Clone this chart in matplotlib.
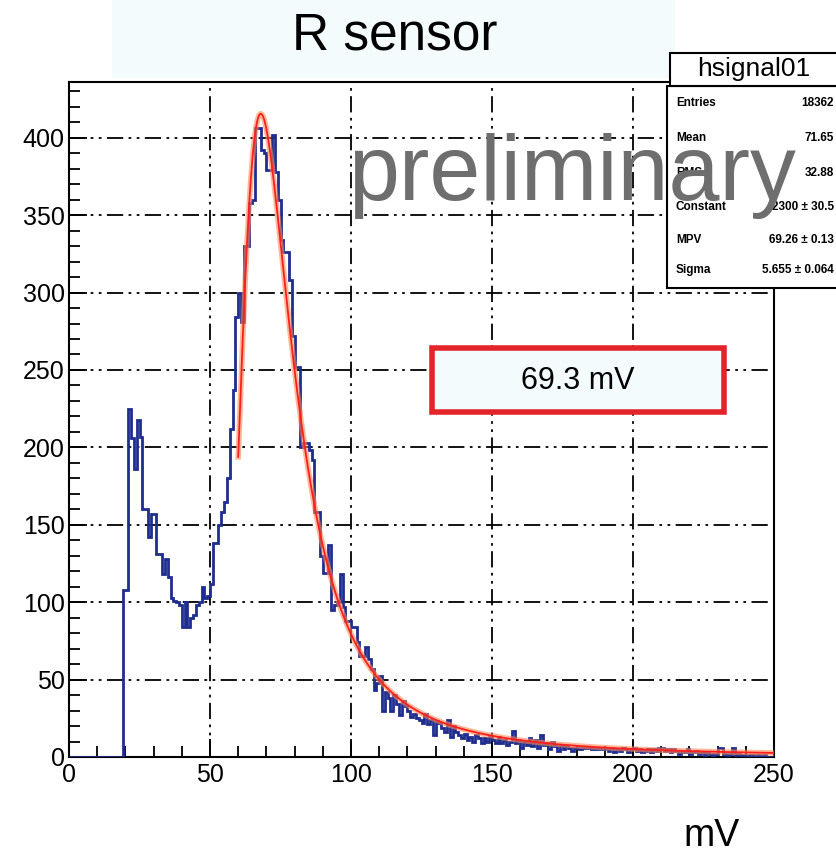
import numpy as np
import matplotlib
matplotlib.use('Agg')
import matplotlib.pyplot as plt
from matplotlib.patches import Rectangle
from matplotlib.ticker import MultipleLocator

plt.rcParams['font.family'] = ['Liberation Sans', 'DejaVu Sans']

# histogram hsignal01: 250 bins of 1 mV from 0 to 250
bin_edges = np.arange(0, 251, 1)
counts = [0] * 19 + [
    108, 108, 225, 206, 186, 218, 207, 160, 160, 142,   # 19-28
    157, 157, 131, 131, 118, 128, 116, 103, 101, 100,   # 29-38
    98, 84, 100, 84, 90, 92, 98, 100, 110, 103,         # 39-48
    104, 112, 138, 138, 150, 158, 165, 180, 212, 237,   # 49-58
    284, 300, 281, 330, 330, 358, 360, 406, 406, 392,   # 59-68
    390, 379, 379, 402, 378, 360, 334, 326, 326, 308,   # 69-78
    272, 252, 252, 200, 203, 203, 198, 192, 158, 158,   # 79-88
    130, 119, 119, 137, 95, 98, 100, 118, 97, 88,       # 89-98
    88, 84, 84, 74, 65, 65, 71, 63, 57, 43,             # 99-108
    48, 52, 30, 42, 38, 30, 40, 34, 27, 36,             # 109-118
    33, 30, 26, 28, 25, 24, 22, 28, 21, 24,             # 119-128
    14, 23, 22, 19, 16, 24, 13, 20, 16, 14,             # 129-138
    12, 15, 11, 13, 10, 14, 12, 9, 12, 10,              # 139-148
    13, 11, 9, 13, 9, 11, 8, 10, 17, 9,                 # 149-158
    11, 6, 10, 8, 12, 7, 11, 6, 14, 8,                  # 159-168
    9, 5, 10, 7, 4, 8, 5, 7, 6, 4,                      # 169-178
    6, 6, 5, 6, 6, 6, 5, 6, 5, 6,                       # 179-188
    5, 6, 4, 6, 3, 5, 4, 6, 5, 3,                       # 189-198
    5, 6, 4, 5, 3, 4, 5, 3, 5, 4,                       # 199-208
    6, 6, 4, 5, 3, 5, 4, 2, 4, 3,                       # 209-218
    5, 2, 3, 4, 2, 3, 1, 3, 2, 1,                       # 219-228
    2, 6, 6, 2, 1, 2, 6, 1, 2, 1,                       # 229-238
    1, 0, 1, 1, 0, 1, 0, 1, 0, 0, 0,                    # 239-249
]
counts = counts[:250]

# Landau fit parameters
fit_const = 2300.0
fit_mpv = 69.26
fit_sigma = 5.655
fit_range = (60.0, 250.0)

stat_names = ['Entries', 'Mean', 'RMS', 'Constant', 'MPV', 'Sigma']
stat_values = ['18362', '71.65', '32.88', '2300 \u00b1 30.5', '69.26 \u00b1 0.13', '5.655 \u00b1 0.064']


def landau(lam):
    # ROOT-style Landau density via its integral representation
    t = np.linspace(1e-7, 40, 40001)
    integrand = np.exp(-t * np.log(t) - np.outer(lam, t)) * np.sin(np.pi * t)
    return np.trapezoid(integrand, t, axis=1) / np.pi


W, H = 836, 858
fig = plt.figure(figsize=(W / 100, H / 100), dpi=100)


def fx(x):
    return x / W


def fy(y):
    return 1 - y / H


# title band
fig.add_artist(Rectangle((fx(112), fy(78)), fx(675) - fx(112), fy(0) - fy(78),
                         transform=fig.transFigure, facecolor='#f3fbfc', edgecolor='none', zorder=0))
fig.text(fx(395), fy(36), 'R sensor', fontsize=37, ha='center', va='center')

ax = fig.add_axes([fx(69), fy(757), fx(774) - fx(69), fy(82) - fy(757)])

ax.stairs(counts, bin_edges, color='#1f2d8e', linewidth=2.0, zorder=3)

xf = np.linspace(fit_range[0], fit_range[1], 600)
yf = fit_const * landau((xf - fit_mpv) / fit_sigma)
ax.plot(xf, yf, color='#ff8a55', linewidth=4, alpha=0.6, zorder=4)
ax.plot(xf, yf, color='#ff1e1e', linewidth=1.3, zorder=5)

ax.set_xlim(0, 250)
ax.set_ylim(0, 436)
ax.xaxis.set_major_locator(MultipleLocator(50))
ax.xaxis.set_minor_locator(MultipleLocator(10))
ax.yaxis.set_major_locator(MultipleLocator(50))
ax.yaxis.set_minor_locator(MultipleLocator(10))
ax.tick_params(which='both', direction='in', labelsize=18, width=1.3, color='black')
ax.tick_params(which='major', length=13)
ax.tick_params(which='minor', length=8)
ax.tick_params(axis='x', pad=4)
ax.tick_params(axis='y', pad=3)
for s in ax.spines.values():
    s.set_linewidth(1.5)
ax.grid(True, which='major', color='black', linewidth=1.3,
        linestyle=(0, (9, 3, 1.5, 3, 1.5, 3)), zorder=1)
ax.set_axisbelow(True)

# value box
ax_box = Rectangle((fx(432), fy(412)), fx(724) - fx(432), fy(348) - fy(412),
                   transform=fig.transFigure, facecolor='#f3fbfc', edgecolor='#e3242b',
                   linewidth=4, zorder=6)
fig.add_artist(ax_box)
fig.text(fx(578), fy(381), '69.3 mV', fontsize=22, ha='center', va='center', zorder=7)

# stats box
fig.add_artist(Rectangle((fx(667), fy(288)), fx(845) - fx(667), fy(86) - fy(288),
                         transform=fig.transFigure, facecolor='white', edgecolor='black',
                         linewidth=1.5, zorder=6))
fig.add_artist(Rectangle((fx(670), fy(86)), fx(845) - fx(670), fy(53) - fy(86),
                         transform=fig.transFigure, facecolor='white', edgecolor='black',
                         linewidth=1.5, zorder=6))
fig.text(fx(754), fy(69), 'hsignal01', fontsize=19, ha='center', va='center', zorder=7)
row_y = [103, 138, 173, 207, 240, 270]
for name, val, y in zip(stat_names, stat_values, row_y):
    fig.text(fx(676), fy(y), name, fontsize=8.5, fontweight='bold', ha='left', va='center', zorder=7)
    fig.text(fx(834), fy(y), val, fontsize=8.5, fontweight='bold', ha='right', va='center', zorder=7)

fig.text(fx(572), fy(200), 'preliminary', fontsize=66, color='#6e6e6e',
         ha='center', va='baseline', zorder=8)

fig.text(fx(712), fy(836), 'mV', fontsize=27, ha='center', va='center')

fig.savefig('out.png', dpi=100)
